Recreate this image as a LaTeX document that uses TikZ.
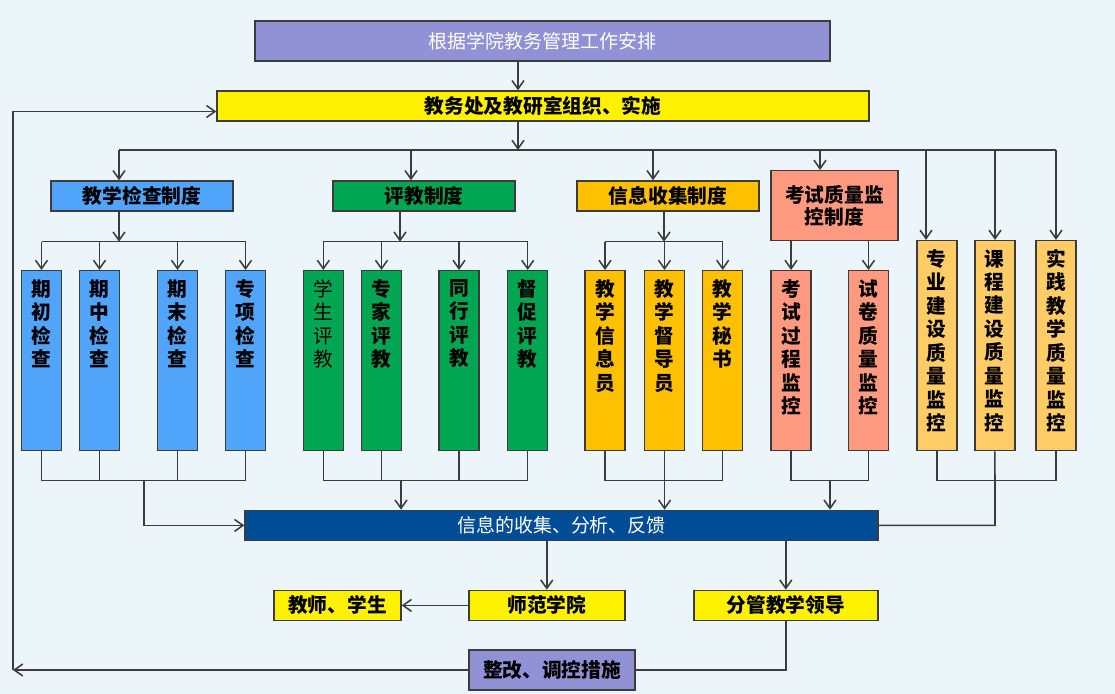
\documentclass[tikz,border=0pt]{standalone}
\usepackage{fontspec}
\usepackage{tikz}
\usetikzlibrary{arrows.meta}
\newfontfamily\cjk{Noto Sans CJK SC}
\definecolor{bgblue}{RGB}{236,245,250}
\definecolor{linegray}{RGB}{60,60,60}
\definecolor{planviolet}{RGB}{145,145,214}
\definecolor{checkblue}{RGB}{80,164,250}
\definecolor{evalgreen}{RGB}{0,166,81}
\definecolor{infoorange}{RGB}{255,192,0}
\definecolor{examsalmon}{RGB}{255,153,128}
\definecolor{qualorange}{RGB}{255,204,102}
\definecolor{feedblue}{RGB}{0,76,151}

\begin{document}
\begin{tikzpicture}[x=0.025cm,y=-0.025cm,
  every node/.style={inner sep=0pt, font=\cjk\bfseries\fontsize{14}{16}\selectfont},
  size/.style 2 args={minimum width=#1*0.025cm, minimum height=#2*0.025cm},
  hbox/.style={draw=linegray, line width=1pt},
  vbox/.style={draw=linegray, line width=1pt, size={40}{180}},
  qbox/.style={draw=linegray, line width=1pt, size={40}{210}, fill=qualorange},
  vtext/.style={anchor=north, align=center, yshift=-6.5pt,
    font=\cjk\bfseries\fontsize{14}{16.7}\selectfont},
  wire/.style={draw=linegray, line width=1.1pt},
  arr/.style={wire, -{Straight Barb[length=6pt,width=8.5pt]}}]
\useasboundingbox (0,0) rectangle (1115,694);
\fill[bgblue] (0,0) rectangle (1115,694);

% top of the chart
\node[hbox, fill=planviolet, text=white, size={575}{40},
  font=\cjk\fontsize{13.5}{16}\selectfont] (plan) at (542.5,41) {根据学院教务管理工作安排};
\node[hbox, fill=yellow, size={652}{30}] (office) at (543,106) {教务处及教研室组织、实施};

% four systems
\node[hbox, fill=checkblue, size={182}{30}] (check) at (142,196) {教学检查制度};
\node[hbox, fill=evalgreen, size={182}{30}] (eval) at (424,196) {评教制度};
\node[hbox, fill=infoorange, size={182}{30}] (info) at (668,196) {信息收集制度};
\node[hbox, fill=examsalmon, size={127}{70}, align=center,
  font=\cjk\bfseries\fontsize{14}{15.3}\selectfont] (exam) at (834.5,205.7) {考试质量监\\控制度};

% columns
\node[vbox, fill=checkblue, label={[vtext]north:期\\初\\检\\查}] (chk1) at (41.5,360.7) {};
\node[vbox, fill=checkblue, label={[vtext]north:期\\中\\检\\查}] (chk2) at (99.5,360.7) {};
\node[vbox, fill=checkblue, label={[vtext]north:期\\末\\检\\查}] (chk3) at (177.5,360.7) {};
\node[vbox, fill=checkblue, label={[vtext]north:专\\项\\检\\查}] (chk4) at (245.5,360.7) {};
\node[vbox, fill=evalgreen, label={[vtext, font=\cjk\fontsize{14}{16.7}\selectfont]north:学\\生\\评\\教}] (evl1) at (323.3,360.7) {};
\node[vbox, fill=evalgreen, label={[vtext]north:专\\家\\评\\教}] (evl2) at (381.5,360.7) {};
\node[vbox, fill=evalgreen, label={[vtext]north:同\\行\\评\\教}] (evl3) at (459,360.7) {};
\node[vbox, fill=evalgreen, label={[vtext]north:督\\促\\评\\教}] (evl4) at (527.7,360.7) {};
\node[vbox, fill=infoorange, label={[vtext]north:教\\学\\信\\息\\员}] (inf1) at (605,360.7) {};
\node[vbox, fill=infoorange, label={[vtext]north:教\\学\\督\\导\\员}] (inf2) at (664.5,360.7) {};
\node[vbox, fill=infoorange, label={[vtext]north:教\\学\\秘\\书}] (inf3) at (722.7,360.7) {};
\node[vbox, fill=examsalmon, label={[vtext]north:考\\试\\过\\程\\监\\控}] (exm1) at (791,360.7) {};
\node[vbox, fill=examsalmon, label={[vtext]north:试\\卷\\质\\量\\监\\控}] (exm2) at (868.5,360.7) {};
\node[qbox, label={[vtext]north:专\\业\\建\\设\\质\\量\\监\\控}] (qul1) at (936.8,345.6) {};
\node[qbox, label={[vtext]north:课\\程\\建\\设\\质\\量\\监\\控}] (qul2) at (994.8,345.6) {};
\node[qbox, label={[vtext]north:实\\践\\教\\学\\质\\量\\监\\控}] (qul3) at (1056,345.6) {};

% feedback part
\node[hbox, fill=feedblue, text=white, size={633}{30},
  font=\cjk\fontsize{13.5}{16}\selectfont] (feed) at (561.5,525.4) {信息的收集、分析、反馈};
\node[hbox, fill=yellow, size={127}{30}] (people) at (337.5,605.4) {教师、学生};
\node[hbox, fill=yellow, size={156}{30}] (normal) at (546.8,605.4) {师范学院};
\node[hbox, fill=yellow, size={184}{30}] (lead) at (785.8,605.4) {分管教学领导};
\node[hbox, fill=planviolet, size={166}{40}] (fix) at (552,670) {整改、调控措施};

% bus points
\coordinate (trunk) at (518,150);
\coordinate (dropA) at (119,150);
\coordinate (dropB) at (411,150);
\coordinate (dropC) at (653,150);
\coordinate (dropD) at (820,150);
\coordinate (dropE) at (926,150);
\coordinate (dropF) at (995,150);
\coordinate (dropG) at (1056,150);
\coordinate (subA) at (119,241.7);
\coordinate (subB) at (400,241.7);
\coordinate (subC) at (664,241.7);
\coordinate (lowA) at (144,480.7);
\coordinate (lowB) at (401,480.7);
\coordinate (lowC) at (664.6,480.7);
\coordinate (lowD) at (830,480.7);
\coordinate (lowE) at (995,480.7);
\coordinate (loop) at (13,670);
\coordinate (back) at (13,111.5);

% downwards
\draw[arr] (plan.south -| trunk) -- (office.north -| trunk);
\draw[arr] (office.south -| trunk) -- (trunk);
\draw[wire] (dropA) -- (dropG);
\draw[arr] (dropA) -- (dropA |- check.north);
\draw[arr] (dropB) -- (dropB |- eval.north);
\draw[arr] (dropC) -- (dropC |- info.north);
\draw[arr] (dropD) -- (dropD |- exam.north);
\draw[arr] (dropE) -- (dropE |- qul1.north);
\draw[arr] (dropF) -- (dropF |- qul2.north);
\draw[arr] (dropG) -- (dropG |- qul3.north);

\draw[arr] (subA |- check.south) -- (subA);
\draw[wire] (chk1.north |- subA) -- (chk4.north |- subA);
\draw[arr] (chk1.north |- subA) -- (chk1.north);
\draw[arr] (chk2.north |- subA) -- (chk2.north);
\draw[arr] (chk3.north |- subA) -- (chk3.north);
\draw[arr] (chk4.north |- subA) -- (chk4.north);

\draw[arr] (subB |- eval.south) -- (subB);
\draw[wire] (evl1.north |- subB) -- (evl4.north |- subB);
\draw[arr] (evl1.north |- subB) -- (evl1.north);
\draw[arr] (evl2.north |- subB) -- (evl2.north);
\draw[arr] (evl3.north |- subB) -- (evl3.north);
\draw[arr] (evl4.north |- subB) -- (evl4.north);

\draw[arr] (subC |- info.south) -- (subC);
\draw[wire] (inf1.north |- subC) -- (inf3.north |- subC);
\draw[arr] (inf1.north |- subC) -- (inf1.north);
\draw[arr] (inf2.north |- subC) -- (inf2.north);
\draw[arr] (inf3.north |- subC) -- (inf3.north);

\draw[arr] (exm1.north |- exam.south) -- (exm1.north);
\draw[arr] (exm2.north |- exam.south) -- (exm2.north);

% gathering
\draw[wire] (chk1.south) -- (chk1.south |- lowA) -- (chk4.south |- lowA) -- (chk4.south);
\draw[wire] (chk2.south) -- (chk2.south |- lowA);
\draw[wire] (chk3.south) -- (chk3.south |- lowA);
\draw[arr] (lowA) |- (feed.west);

\draw[wire] (evl1.south) -- (evl1.south |- lowB) -- (evl4.south |- lowB) -- (evl4.south);
\draw[wire] (evl2.south) -- (evl2.south |- lowB);
\draw[wire] (evl3.south) -- (evl3.south |- lowB);
\draw[arr] (lowB) -- (lowB |- feed.north);

\draw[wire] (inf1.south) -- (inf1.south |- lowC) -- (inf3.south |- lowC) -- (inf3.south);
\draw[wire] (inf2.south) -- (inf2.south |- lowC);
\draw[arr] (lowC) -- (lowC |- feed.north);

\draw[wire] (exm1.south) -- (exm1.south |- lowD) -- (exm2.south |- lowD) -- (exm2.south);
\draw[arr] (lowD) -- (lowD |- feed.north);

\draw[wire] (qul1.south) -- (qul1.south |- lowE) -- (qul3.south |- lowE) -- (qul3.south);
\draw[wire] (qul2.south) -- (lowE) |- (feed.east);

% results
\draw[arr] (feed.south -| normal.north) -- (normal.north);
\draw[arr] (feed.south -| lead.north) -- (lead.north);
\draw[arr] (normal.west) -- (people.east);
\draw[wire] (lead.south) |- (fix.east);
\draw[arr] (fix.west) -- (loop);
\draw[wire] (loop) -- (back);
\draw[arr] (back) -- (back -| office.west);
\end{tikzpicture}
\end{document}
